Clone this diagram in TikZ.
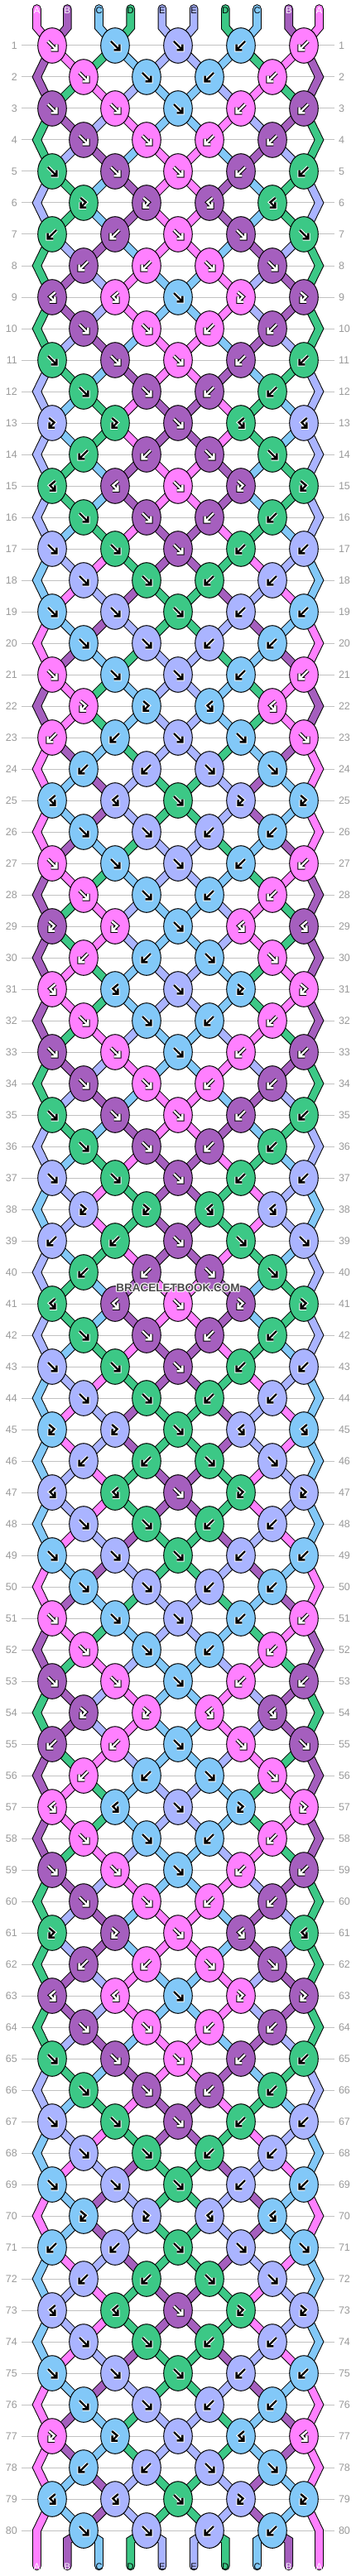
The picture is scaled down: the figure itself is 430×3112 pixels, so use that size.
\documentclass[tikz,border=0pt]{standalone}
\usepackage{fontspec}
\setmainfont{Liberation Sans}
\usetikzlibrary{shapes.geometric}
\pgfdeclarelayer{paperlayer}
\pgfdeclarelayer{gridlayer}
\pgfdeclarelayer{stringlayer}
\pgfsetlayers{paperlayer,gridlayer,stringlayer,main}

\definecolor{colA}{HTML}{FF80FF}
\definecolor{colB}{HTML}{A55FBE}
\definecolor{colC}{HTML}{82C8F8}
\definecolor{colD}{HTML}{3CC886}
\definecolor{colE}{HTML}{AAB4FF}
\definecolor{gridgray}{HTML}{C2C2C2}
\definecolor{lblgray}{HTML}{9A9A9A}
\definecolor{markgray}{HTML}{4A4A4A}

\def\arrA{white}\def\arrB{white}\def\arrC{black}\def\arrD{black}\def\arrE{black}
\def\outA{black}\def\outB{black}\def\outC{white}\def\outD{white}\def\outE{white}

\tikzset{
  knot/.style={ellipse, draw=black, line width=1pt, minimum width=34.6pt, minimum height=42.6pt, inner sep=0pt},
  strand/.style={draw=black, double=#1, double distance=8.6pt, line width=1pt, line join=miter},
  gridline/.style={draw=gridgray, line width=1pt},
  rowlbl/.style={text=lblgray, font=\fontsize{12.5}{13}\selectfont, inner sep=0pt},
  strlbl/.style={font=\fontsize{11}{12}\selectfont, inner sep=0pt},
  glyphline/.style={line cap=square, line join=miter},
  wmark/.style={font=\bfseries\fontsize{13.5}{14}\selectfont, inner sep=0pt},
}

\newcount\kk \newcount\lp \newcount\snc
\newif\ifswap
\def\SetRT#1#2{\expandafter\def\csname RT#1\endcsname{#2}}
\SetRT{1}{FFFBB}\SetRT{2}{FFBB}\SetRT{3}{FFFBB}\SetRT{4}{FFBB}\SetRT{5}{FFFBB}
\SetRT{6}{ffbb}\SetRT{7}{BBFFF}\SetRT{8}{BBFF}\SetRT{9}{bbFff}\SetRT{10}{FFBB}
\SetRT{11}{FFFBB}\SetRT{12}{FFBB}\SetRT{13}{ffFbb}\SetRT{14}{BBFF}\SetRT{15}{bbFff}
\SetRT{16}{FFBB}\SetRT{17}{FFFBB}\SetRT{18}{FFBB}\SetRT{19}{FFFBB}\SetRT{20}{FFBB}
\SetRT{21}{FFFBB}\SetRT{22}{ffbb}\SetRT{23}{BBFFF}\SetRT{24}{BBFF}\SetRT{25}{bbFff}
\SetRT{26}{FFBB}\SetRT{27}{FFFBB}\SetRT{28}{FFBB}\SetRT{29}{ffFbb}\SetRT{30}{BBFF}
\SetRT{31}{bbFff}\SetRT{32}{FFBB}\SetRT{33}{FFFBB}\SetRT{34}{FFBB}\SetRT{35}{FFFBB}
\SetRT{36}{FFBB}\SetRT{37}{FFFBB}\SetRT{38}{ffbb}\SetRT{39}{BBFFF}\SetRT{40}{BBFF}
\SetRT{41}{bbFff}\SetRT{42}{FFBB}\SetRT{43}{FFFBB}\SetRT{44}{FFBB}\SetRT{45}{ffFbb}
\SetRT{46}{BBFF}\SetRT{47}{bbFff}\SetRT{48}{FFBB}\SetRT{49}{FFFBB}\SetRT{50}{FFBB}
\SetRT{51}{FFFBB}\SetRT{52}{FFBB}\SetRT{53}{FFFBB}\SetRT{54}{ffbb}\SetRT{55}{BBFFF}
\SetRT{56}{BBFF}\SetRT{57}{bbFff}\SetRT{58}{FFBB}\SetRT{59}{FFFBB}\SetRT{60}{FFBB}
\SetRT{61}{ffFbb}\SetRT{62}{BBFF}\SetRT{63}{bbFff}\SetRT{64}{FFBB}\SetRT{65}{FFFBB}
\SetRT{66}{FFBB}\SetRT{67}{FFFBB}\SetRT{68}{FFBB}\SetRT{69}{FFFBB}\SetRT{70}{ffbb}
\SetRT{71}{BBFFF}\SetRT{72}{BBFF}\SetRT{73}{bbFff}\SetRT{74}{FFBB}\SetRT{75}{FFFBB}
\SetRT{76}{FFBB}\SetRT{77}{ffFbb}\SetRT{78}{BBFF}\SetRT{79}{bbFff}\SetRT{80}{FFBB}

\def\SetS#1#2{\expandafter\xdef\csname S#1\endcsname{#2}}
\SetS{1}{A}\SetS{2}{B}\SetS{3}{C}\SetS{4}{D}\SetS{5}{E}
\SetS{6}{E}\SetS{7}{D}\SetS{8}{C}\SetS{9}{B}\SetS{10}{A}

\def\Snap#1{\snc=0 \loop\advance\snc by 1
  \expandafter\xdef\csname C-#1-\the\snc\endcsname{\csname S\the\snc\endcsname}%
  \ifnum\snc<10 \repeat}

% arrow glyphs, drawn around (0,0), y pointing down
\def\glF#1{\draw[glyphline,#1] (-5,-5) -- (4.4,4.4) (5.4,-1.4) -- (5.4,5.4) -- (-1.4,5.4);}
\def\glf#1{\draw[glyphline,#1] (-3.8,-6) -- (2.6,-0.6) -- (-3.2,5.2) (-3.4,-0.6) -- (-3.4,5.6) -- (3.2,5.6);}
\def\glB#1{\begin{scope}[xscale=-1]\glF{#1}\end{scope}}
\def\glb#1{\begin{scope}[xscale=-1]\glf{#1}\end{scope}}
\newcommand\KGlyph[4]{%
  \edef\gout{\csname out#4\endcsname}\edef\gin{\csname arr#4\endcsname}%
  \begin{scope}[shift={(#2,#3)}]
    \csname gl#1\endcsname{draw=\gout, line width=4.4pt}%
    \csname gl#1\endcsname{draw=\gin, line width=2.4pt}%
  \end{scope}}

\def\OneKnot#1{%
  \advance\kk by 1
  \lp=\numexpr 2*\kk-\rowbase\relax
  \edef\Lc{\csname S\the\lp\endcsname}%
  \edef\Rc{\csname S\the\numexpr\lp+1\relax\endcsname}%
  \if#1F\edef\kc{\Lc}\swaptrue\fi
  \if#1B\edef\kc{\Rc}\swaptrue\fi
  \if#1f\edef\kc{\Lc}\swapfalse\fi
  \if#1b\edef\kc{\Rc}\swapfalse\fi
  \ifodd\rr\relax \edef\kx{\the\numexpr76*\kk-13\relax}\else\edef\kx{\the\numexpr76*\kk+25\relax}\fi
  \edef\ky{\the\numexpr38*\rr+17\relax}%
  \edef\kname{K-\rr-\the\kk}%
  \node[knot, fill=col\kc] (\kname) at (\kx,\ky) {};
  \KGlyph{#1}{\kx}{\ky}{\kc}%
  \ifswap
    \expandafter\xdef\csname S\the\lp\endcsname{\Rc}%
    \expandafter\xdef\csname S\the\numexpr\lp+1\relax\endcsname{\Lc}%
  \fi}
\def\DoKnots#1{\ifx#1\relax\else\OneKnot#1\expandafter\DoKnots\fi}
\def\ProcessRow#1{%
  \edef\rr{#1}%
  \ifodd\rr\relax\def\rowbase{1}\else\def\rowbase{0}\fi
  \kk=0
  \edef\types{\csname RT\rr\endcsname}%
  \expandafter\DoKnots\types\relax
  \Snap{\rr}%
  \edef\ky{\the\numexpr38*\rr+17\relax}%
  \ifodd\rr\relax\else
    \coordinate (E-\rr-1) at (44.5,\ky);
    \coordinate (E-\rr-10) at (385.5,\ky);
  \fi
  \node[rowlbl, anchor=east] (LL-\rr) at (21,\ky) {\rr};
  \node[rowlbl, anchor=west] (LR-\rr) at (408.8,\ky) {\rr};
  \begin{pgfonlayer}{gridlayer}
    \draw[gridline] (26,\ky) -- (404,\ky);
  \end{pgfonlayer}}
\def\PName#1#2{%
  \ifodd#1\relax
    \edef\pn{K-#1-\the\numexpr(2*#2+1)/4\relax}%
  \else
    \ifnum#2=1 \edef\pn{E-#1-1}\else
    \ifnum#2=10 \edef\pn{E-#1-10}\else
    \edef\pn{K-#1-\the\numexpr(2*#2-1)/4\relax}\fi\fi
  \fi}

\begin{document}
\begin{tikzpicture}[x=1pt,y=-1pt]
\useasboundingbox (0,0) rectangle (430,3112);
\begin{pgfonlayer}{paperlayer}
\fill[white] (0,0) rectangle (430,3112);
\end{pgfonlayer}
\Snap{0}
\foreach \r in {1,...,80}{\ProcessRow{\r}}

% string ends
\foreach \i in {1,...,10}{%
  \pgfmathsetmacro\xt{\i==1 ? 44.5 : (\i==10 ? 385.5 : 215+38.2*(\i-5.5))}%
  \edef\lt{\ifcase\i\or A\or B\or C\or D\or E\or E\or D\or C\or B\or A\fi}%
  \coordinate (T-\i) at (\xt,10.5);
  \coordinate (Tb-\i) at (\xt,33);
  \coordinate (Bb-\i) at (\xt,3069);
  \coordinate (B-\i) at (\xt,3100);
  \node[strlbl, text=\csname arr\lt\endcsname] (TL-\i) at (\xt,12.6) {\lt};
  \node[strlbl, text=\csname arr\lt\endcsname] (BL-\i) at (\xt,3100.6) {\lt};
}

\begin{pgfonlayer}{stringlayer}
\foreach \i in {1,...,10}{%
  \PName{1}{\i}%
  \edef\SegCol{\csname C-0-\i\endcsname}%
  \draw[strand=col\SegCol, line cap=round] (T-\i) -- (Tb-\i) -- (\pn.center);
}
\foreach \r in {1,...,79}{%
  \foreach \i in {1,...,10}{%
    \edef\SegCol{\csname C-\r-\i\endcsname}%
    \ifnum\i=1 \def\isedge{1}\else\ifnum\i=10 \def\isedge{1}\else\def\isedge{0}\fi\fi
    \ifnum\isedge=1
      \ifodd\r\relax
        \PName{\r}{\i}\let\PnA\pn
        \edef\rn{\the\numexpr\r+1\relax}%
        \ifnum\r<79
          \PName{\the\numexpr\r+2\relax}{\i}\let\PnC\pn
          \draw[strand=col\SegCol] (\PnA.center) -- (E-\rn-\i) -- (\PnC.center);
        \else
          \draw[strand=col\SegCol, line cap=round] (\PnA.center) -- (E-\rn-\i) -- (B-\i);
        \fi
      \fi
    \else
      \PName{\r}{\i}\let\PnA\pn
      \PName{\the\numexpr\r+1\relax}{\i}\let\PnB\pn
      \draw[strand=col\SegCol] (\PnA.center) -- (\PnB.center);
    \fi
  }}
\foreach \i in {2,...,9}{%
  \edef\SegCol{\csname C-80-\i\endcsname}%
  \PName{80}{\i}%
  \draw[strand=col\SegCol, line cap=round] (\pn.center) -- (Bb-\i) -- (B-\i);
}
\end{pgfonlayer}

% watermark
\foreach \dx/\dy in {-1.2/0,1.2/0,0/-1.2,0/1.2,-0.85/-0.85,0.85/0.85,-0.85/0.85,0.85/-0.85}
  \node[wmark, text=white, text opacity=0.75] at (215+\dx,1556+\dy) {BRACELETBOOK.COM};
\node[wmark, text=markgray] (wm) at (215,1556) {BRACELETBOOK.COM};
\end{tikzpicture}
\end{document}
